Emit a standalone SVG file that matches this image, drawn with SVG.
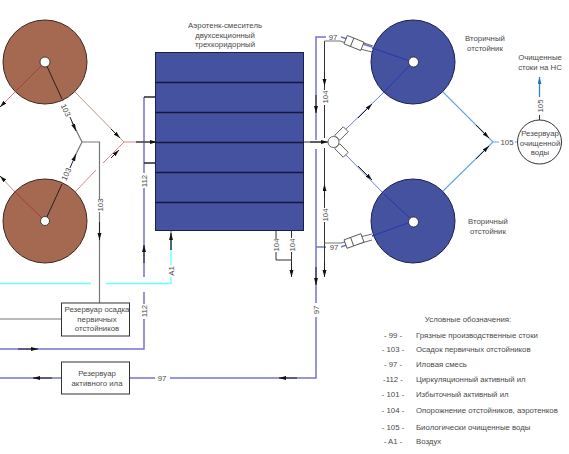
<svg xmlns="http://www.w3.org/2000/svg" width="569" height="454" viewBox="0 0 569 454">
<style>
text{font-family:"Liberation Sans",Arial,sans-serif;font-size:7.8px;fill:#4a4a4a;text-anchor:middle}
.l{text-anchor:start}
.c{fill:none;stroke-width:1.2}
.pu{stroke:#7474d2;stroke-width:1.5}
.cy{stroke:#66ffff;stroke-width:1.3}
.bk{stroke:#333;stroke-width:1}
.gy{stroke:#777;stroke-width:1.2}
.dr{stroke:#a33c3c;stroke-width:1}
.pk{stroke:#d08a8a;stroke-width:1}
.db{stroke:#2a35b0;stroke-width:1}
.lb{stroke:#6a80e0;stroke-width:1}
.sb{stroke:#6aa8e4;stroke-width:1.2}
.ar{stroke:#222;stroke-width:1;fill:none;marker-end:url(#a)}
.ab{stroke:#3a80c8;stroke-width:1.3;fill:none;marker-end:url(#b)}
.bro{fill:#a56850;stroke:#3a2a22;stroke-width:1}
.blu{fill:#4452a0;stroke:#1a1f50;stroke-width:1}
.hole{fill:#fff;stroke:#222;stroke-width:.8}
.box{fill:#fff;stroke:#333;stroke-width:1}
.v{fill:#fff;stroke:#444;stroke-width:.8}
</style>
<defs>
<marker id="a" markerUnits="userSpaceOnUse" markerWidth="8" markerHeight="5" refX="7" refY="2" orient="auto"><path d="M0 0L7 2L0 4Z" fill="#111"/></marker>
<marker id="b" markerUnits="userSpaceOnUse" markerWidth="8" markerHeight="5" refX="7" refY="2" orient="auto"><path d="M0 0L7 2L0 4Z" fill="#2a78c0"/></marker>
</defs>
<g id="connectors" class="c">
<path class="pk" d="M0 107L15 92M75 92L124 142L103 163M96 170L75 192M0 176L15 192"/>
<path class="pk" d="M124 142H136"/>
<path class="gy" d="M136 142H156"/>
<path class="bk" d="M304 142H322"/>
<path class="gy" d="M63 101L62 99M72 122L82 142L75 156"/>
<path class="gy" d="M82 142H99.5V199M99.5 212V303"/>
<path class="gy" d="M0 319H61"/>
<path class="pu" d="M144 97V173M144 188V277M144 292V304M144 319V349H0"/>
<path class="bk" d="M144 97H155M144 163H155"/>
<path class="cy" d="M0 283.5H91M106 283.5H171V277M171 265V240"/>
<path class="gy" d="M171 231V250"/>
<path class="pu" d="M0 378H61M130 378H155M170 378H316V317M316 303V149M316 140V37H326M341 37L372 47"/>
<path class="pu" d="M316 247H326M341 247L352 243"/>
<path class="bk" d="M324.5 41V90M324.500 105V138M324.500 148V208M324.500 222V277"/>
<path class="gy" d="M324.5 41H340L349 44M324.5 243H341L349 241"/>
<path class="db" d="M372 48L413 62M372 236L413 221"/>
<path class="lb" d="M345 130L384 92M345 154L384 194"/>
<path class="db" d="M384 92L413 62M384 194L413 221"/>
<path class="bk" d="M276 231V239M276 252V260H291.5M291.5 231V238M291.5 252V277"/>
<path class="sb" d="M443 92L493 142L443 191M493 142H499M515 142H519"/>
<path class="bk" d="M539.5 120V115"/>
<path class="ab" d="M539.5 97V77"/>
<path class="ar" d="M70 117L76 131"/>
<path class="ar" d="M70 168L76 154"/>
<path class="ar" d="M111 129L120 138"/>
<path class="ar" d="M111 158L119 150"/>
<path class="ar" d="M136 142H157"/>
<path class="ar" d="M144 97H163"/>
<path class="ar" d="M144 163H163"/>
<path class="ar" d="M99.5 222V240"/>
<path class="ar" d="M144 263V245"/>
<path class="ar" d="M171 250V233"/>
<path class="ar" d="M18 349H38"/>
<path class="ar" d="M52 378H33"/>
<path class="ar" d="M297 378H279"/>
<path class="ar" d="M316 267V285"/>
<path class="ar" d="M316 95V113"/>
<path class="ar" d="M324.500 72V86"/>
<path class="ar" d="M324.500 198V184"/>
<path class="ar" d="M310 142H328"/>
<path class="ar" d="M358 118L372 104"/>
<path class="ar" d="M358 166L372 180"/>
<path class="ar" d="M476 125L489 138"/>
<path class="ar" d="M476 159L489 146"/>
<path class="ar" d="M291.5 262V277"/>
<path class="ar" d="M324.500 262V277"/>
<path class="ar" d="M5 102L0 107"/>
<path class="ar" d="M5 181L0 176"/>
</g>
<g id="tank">
<rect class="blu" x="155.500" y="52.500" width="148" height="178"/>
<path stroke="#15183c" stroke-width="1.300" d="M155 82.500H304M155 112.500H304M155 142.500H304M155 172.500H304M155 202.500H304"/>
<text x="225" y="28">Аэротенк-смеситель</text><text x="225" y="38">двухсекционный</text><text x="225" y="47">трехкоридорный</text>
</g>
<g id="primary-1"><circle class="bro" cx="45" cy="62" r="42"/><path fill="none" stroke="#a33c3c" d="M45 62L15 92"/><path fill="none" stroke="#222" d="M45 62L62 99"/><circle class="hole" cx="45" cy="62" r="5"/></g>
<g id="primary-2"><circle class="bro" cx="45" cy="221" r="42"/><path fill="none" stroke="#a33c3c" d="M45 221L15 192"/><path fill="none" stroke="#222" d="M45 221L62 184"/><circle class="hole" cx="45" cy="221" r="4.500"/></g>
<g id="secondary-1"><circle class="blu" cx="413" cy="62" r="42"/><path class="db" fill="none" d="M372 48L413 62M384 92L413 62"/><circle class="hole" cx="413.500" cy="62" r="5"/><text x="485" y="41">Вторичный</text><text x="485" y="51">отстойник</text></g>
<g id="secondary-2"><circle class="blu" cx="413" cy="221" r="42"/><path class="db" fill="none" d="M372 236L413 221M384 194L413 221"/><circle class="hole" cx="413.500" cy="222" r="5"/><text x="488" y="224">Вторичный</text><text x="488" y="234">отстойник</text></g>
<g id="valves">
<path fill="none" stroke="#444" stroke-width=".8" d="M358 41L373 46M356 48L372 52M358 244L372 240M356 238L372 234"/>
<rect class="v" x="-9" y="-4.500" width="18" height="9" transform="translate(354 43) rotate(22)"/><path class="v" d="M-2 -4.500V4.500" transform="translate(354 43) rotate(22)"/>
<rect class="v" x="-9" y="-4.500" width="18" height="9" transform="translate(354 241) rotate(-20)"/><path class="v" d="M-2 -4.500V4.500" transform="translate(354 241) rotate(-20)"/>
<rect class="v" x="-6" y="-3.500" width="12" height="7" transform="translate(341.500 133.500) rotate(-45)"/>
<rect class="v" x="-6" y="-3.500" width="12" height="7" transform="translate(341.500 150.500) rotate(45)"/>
<circle class="v" cx="333.500" cy="142" r="5.500"/>
</g>
<g id="sludge-tank"><rect class="box" x="61.500" y="303" width="68" height="33"/><text x="97" y="312">Резервуар осадка</text><text x="97" y="322">первичных</text><text x="97" y="331">отстойников</text></g>
<g id="active-tank"><rect class="box" x="61.500" y="362" width="68" height="32"/><text x="97" y="376">Резервуар</text><text x="97" y="386">активного ила</text></g>
<g id="clean-tank"><circle class="box" cx="539.500" cy="142" r="22"/><text x="540" y="136">Резервуар</text><text x="540" y="146">очищенной</text><text x="540" y="155">воды</text></g>
<g id="labels">
<text x="540" y="60">Очищенные</text><text x="540" y="70">стоки на НС</text>
<text transform="translate(66 110) rotate(65)" y="3">103</text>
<text transform="translate(66 174) rotate(-65)" y="3">103</text>
<text transform="translate(100 205) rotate(-90)" y="3">103</text>
<text transform="translate(144 181) rotate(-90)" y="3">112</text>
<text transform="translate(144 311) rotate(-90)" y="3">112</text>
<text transform="translate(171 271) rotate(-90)" y="3">A1</text>
<text transform="translate(276 245) rotate(-90)" y="3">104</text>
<text transform="translate(292 245) rotate(-90)" y="3">104</text>
<text transform="translate(316 310) rotate(-90)" y="3">97</text>
<text transform="translate(324.500 97) rotate(-90)" y="3">104</text>
<text transform="translate(324.500 215) rotate(-90)" y="3">104</text>
<text transform="translate(540 106) rotate(-90)" y="3">105</text>
<text x="333" y="40">97</text><text x="334" y="250">97</text>
<text x="162" y="381">97</text>
<text x="507" y="145">105</text>
</g>
<g id="legend">
<text x="468" y="322">Условные обозначения:</text>
<text x="393" y="338">- 99 -</text><text class="l" x="416" y="338">Грязные производственные стоки</text>
<text x="393" y="352">- 103 -</text><text class="l" x="416" y="352">Осадок первичных отстойников</text>
<text x="393" y="367">- 97 -</text><text class="l" x="416" y="367">Иловая смесь</text>
<text x="393" y="382">-112 -</text><text class="l" x="416" y="382">Циркуляционный активный ил</text>
<text x="393" y="397">- 101 -</text><text class="l" x="416" y="397">Избыточный активный ил</text>
<text x="393" y="413">- 104 -</text><text class="l" x="416" y="413">Опорожнение отстойников, аэротенков</text>
<text x="393" y="430">- 105 -</text><text class="l" x="416" y="430">Биологически очищенные воды</text>
<text x="393" y="444">- A1 -</text><text class="l" x="416" y="444">Воздух</text>
</g>
</svg>
